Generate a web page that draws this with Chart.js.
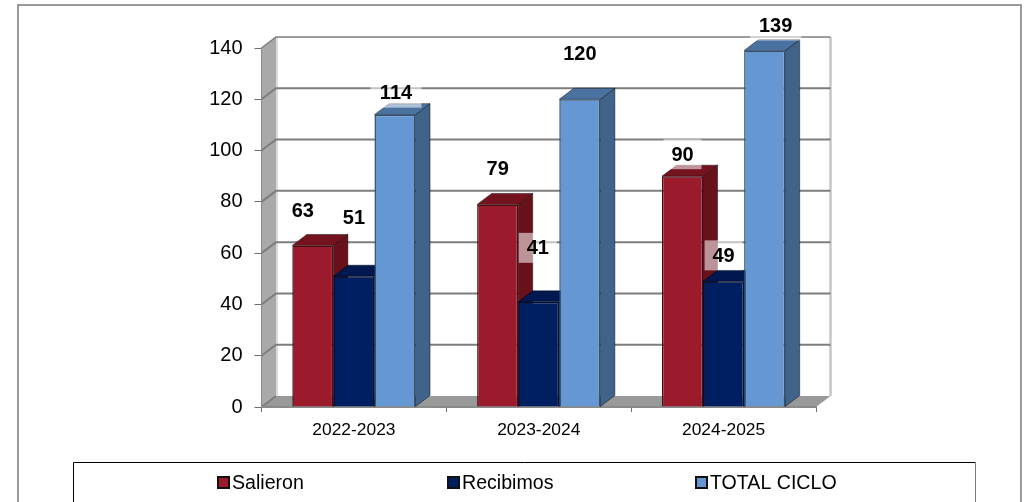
<!DOCTYPE html>
<html>
<head>
<meta charset="utf-8">
<script src="https://cdn.jsdelivr.net/npm/chart.js@4/dist/chart.umd.min.js"></script>
<style>
    html, body { margin: 0; padding: 0; background: #fff; }
    canvas { display: block; }
</style>
</head>
<body>
<canvas id="myChart" width="1024" height="502"></canvas>
<script>
const categories = ['2022-2023', '2023-2024', '2024-2025'];
const salieron = [63, 79, 90];
const recibimos = [51, 41, 49];
const totalCiclo = [114, 120, 139];
const yTicks = [0, 20, 40, 60, 80, 100, 120, 140];

// hand placed value labels in the original, offset from the top centre of each bar
// one row per series
const labelShiftX = [[-10, 0, 0], [0, -1, 0], [1, 0, 11]];
const labelShiftY = [[-35, -36, -22], [-59, -54, -26], [-22, -46, -25]];

const DEPTH_X = 14.5;
const DEPTH_Y = 11;
const FONT = '"Liberation Sans", Arial, sans-serif';

// side and top colours of the fake 3d bars
const sideColors = ['#69111b', '#001a4d', '#406389'];
const topColors = ['#74131f', '#001850', '#4a72a0'];

function poly(ctx, points, fill) {
    ctx.beginPath();
    points.forEach((p, i) => i ? ctx.lineTo(p[0], p[1]) : ctx.moveTo(p[0], p[1]));
    ctx.closePath();
    ctx.fillStyle = fill;
    ctx.fill();
    ctx.strokeStyle = 'rgba(0,0,0,0.45)';
    ctx.lineWidth = 1;
    ctx.stroke();
}

const walls = {
    id: 'walls',
    beforeDraw(chart) {
        const { ctx, chartArea: a, scales } = chart;
        ctx.save();
        ctx.fillStyle = '#fff';
        ctx.fillRect(0, 0, 1024, 502);

        // outer frame
        ctx.strokeStyle = '#7a7a7a';
        ctx.lineWidth = 1.5;
        ctx.strokeRect(18, 5, 1003, 520);

        // left wall and floor
        ctx.fillStyle = '#a9a9a9';
        ctx.beginPath();
        ctx.moveTo(a.left, a.bottom);
        ctx.lineTo(a.left + DEPTH_X, a.bottom - DEPTH_Y);
        ctx.lineTo(a.left + DEPTH_X, a.top - DEPTH_Y);
        ctx.lineTo(a.left, a.top);
        ctx.closePath();
        ctx.fill();
        ctx.fillStyle = '#999999';
        ctx.beginPath();
        ctx.moveTo(a.left, a.bottom);
        ctx.lineTo(a.left + DEPTH_X, a.bottom - DEPTH_Y);
        ctx.lineTo(a.right + DEPTH_X, a.bottom - DEPTH_Y);
        ctx.lineTo(a.right, a.bottom);
        ctx.closePath();
        ctx.fill();

        // pale edges of the back wall
        ctx.strokeStyle = '#c6c6c6';
        ctx.lineWidth = 2.5;
        ctx.beginPath();
        ctx.moveTo(a.right + DEPTH_X, a.top - DEPTH_Y);
        ctx.lineTo(a.right + DEPTH_X, a.bottom - DEPTH_Y);
        ctx.stroke();
        ctx.strokeStyle = '#dcdcdc';
        ctx.lineWidth = 2;
        ctx.beginPath();
        ctx.moveTo(a.left + DEPTH_X + 1, a.top - DEPTH_Y);
        ctx.lineTo(a.left + DEPTH_X + 1, a.bottom - DEPTH_Y);
        ctx.stroke();

        // gridlines run along the back wall and down the left wall
        yTicks.forEach(v => {
            const y = scales.y.getPixelForValue(v);
            ctx.strokeStyle = '#7d7d7d';
            ctx.lineWidth = v === 140 ? 1.5 : 2;
            ctx.beginPath();
            ctx.moveTo(a.left, y);
            ctx.lineTo(a.left + DEPTH_X, y - DEPTH_Y);
            if (v > 0) ctx.lineTo(a.right + DEPTH_X, y - DEPTH_Y);
            ctx.stroke();
        });
        ctx.restore();
    },
    beforeDatasetsDraw(chart) {
        // left to right so each bar covers the side of its neighbour
        const { ctx } = chart;
        chart.data.datasets.forEach((ds, i) => {
            chart.getDatasetMeta(i).data.forEach(bar => {
                const { x, y, base, width } = bar.getProps(['x', 'y', 'base', 'width'], true);
                const l = x - width / 2;
                const r = x + width / 2;
                ctx.save();
                poly(ctx, [[r, y], [r + DEPTH_X, y - DEPTH_Y], [r + DEPTH_X, base - DEPTH_Y], [r, base]], sideColors[i]);
                poly(ctx, [[l, y], [l + DEPTH_X, y - DEPTH_Y], [r + DEPTH_X, y - DEPTH_Y], [r, y]], topColors[i]);
                ctx.restore();
                bar.draw(ctx);
            });
        });
        return false;
    },
    afterDraw(chart) {
        const { ctx } = chart;
        ctx.save();

        // value labels with their pale boxes
        chart.data.datasets.forEach((ds, i) => {
            chart.getDatasetMeta(i).data.forEach((bar, j) => {
                const text = String(ds.data[j]);
                const cx = bar.x + labelShiftX[i][j];
                const cy = bar.y + labelShiftY[i][j];
                const w = text.length > 2 ? 51 : 38;
                ctx.fillStyle = 'rgba(255,255,255,0.55)';
                ctx.fillRect(cx - w / 2, cy - 15, w, 30);
                ctx.fillStyle = '#000';
                ctx.font = 'bold 20px ' + FONT;
                ctx.textAlign = 'center';
                ctx.textBaseline = 'middle';
                ctx.fillText(text, cx, cy + 1);
            });
        });

        // legend box
        ctx.strokeStyle = '#000';
        ctx.lineWidth = 1;
        ctx.beginPath();
        ctx.moveTo(73.5, 503);
        ctx.lineTo(73.5, 462.5);
        ctx.lineTo(975.5, 462.5);
        ctx.stroke();
        ctx.strokeStyle = '#7a7a7a';
        ctx.beginPath();
        ctx.moveTo(975.5, 462.5);
        ctx.lineTo(975.5, 503);
        ctx.stroke();

        const legendX = [217, 447, 695];
        chart.data.datasets.forEach((ds, i) => {
            ctx.fillStyle = ds.backgroundColor;
            ctx.strokeStyle = '#111';
            ctx.lineWidth = 2;
            ctx.fillRect(legendX[i] + 1, 477, 11, 11);
            ctx.strokeRect(legendX[i] + 1, 477, 11, 11);
            ctx.fillStyle = '#000';
            ctx.font = '19.6px ' + FONT;
            ctx.textAlign = 'left';
            ctx.textBaseline = 'middle';
            ctx.fillText(ds.label, legendX[i] + 15, 484);
        });
        ctx.restore();
    }
};

const ctx = document.getElementById('myChart').getContext('2d');
const myChart = new Chart(ctx, {
    type: 'bar',
    data: {
        labels: categories,
        datasets: [
            { label: 'Salieron', data: salieron, backgroundColor: '#9b1b2c', borderColor: '#4a0d15' },
            { label: 'Recibimos', data: recibimos, backgroundColor: '#001f60', borderColor: '#000f30' },
            { label: 'TOTAL CICLO', data: totalCiclo, backgroundColor: '#6597d2', borderColor: '#34506f' }
        ]
    },
    options: {
        responsive: false,
        animation: false,
        devicePixelRatio: 1,
        layout: { padding: { top: 48, right: 208, left: 0, bottom: 0 } },
        datasets: {
            bar: {
                categoryPercentage: 2 / 3,
                barPercentage: 1,
                borderWidth: 1.5
            }
        },
        plugins: {
            legend: { display: false },
            tooltip: { enabled: false }
        },
        scales: {
            x: {
                afterFit: s => { s.height = 95; },
                grid: { drawOnChartArea: false, color: '#6f6f6f', tickLength: 5, offset: true },
                border: { color: '#8a8a8a', width: 2 },
                ticks: { color: '#000', font: { family: FONT, size: 17.4 }, padding: 8, maxRotation: 0 }
            },
            y: {
                min: 0,
                max: 140,
                afterFit: s => { s.width = 261.5; },
                grid: { drawOnChartArea: false, color: '#6f6f6f', tickLength: 7 },
                border: { color: '#8a8a8a', width: 1 },
                afterBuildTicks: s => { s.ticks = yTicks.map(v => ({ value: v })); },
                ticks: { color: '#000', font: { family: FONT, size: 20 }, padding: 12 }
            }
        }
    },
    plugins: [walls]
});
</script>
</body>
</html>
